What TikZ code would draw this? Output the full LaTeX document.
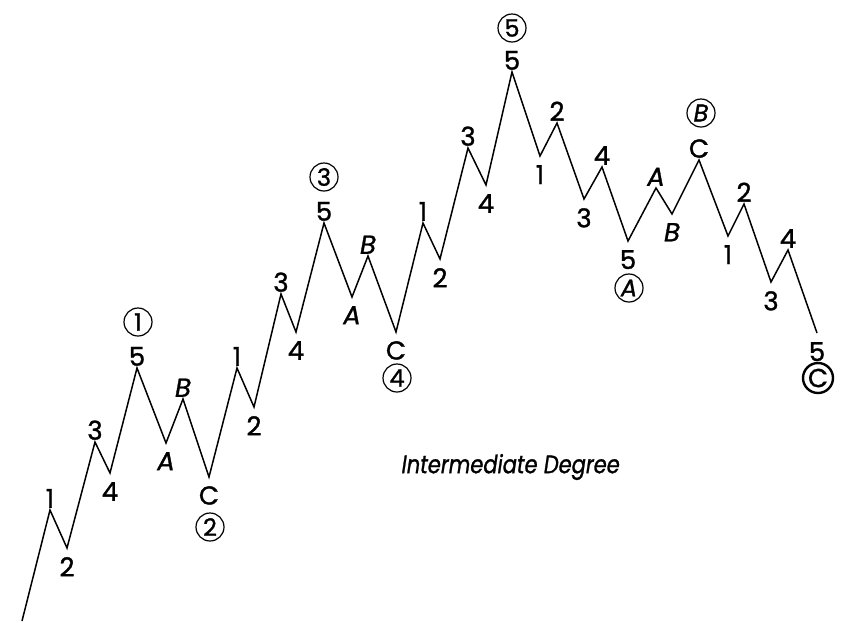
\documentclass[tikz,border=0pt]{standalone}
\usepackage{fontspec}
\setmainfont{Poppins}[FakeBold=1.2]
\begin{document}
\begin{tikzpicture}[x=1pt,y=-1pt,
  wave/.style={line width=1.5pt, line join=miter},
  lab/.style={font=\fontsize{26}{26}\selectfont, inner sep=1pt},
  up/.style={lab, anchor=south, yshift=1pt},
  dn/.style={lab, anchor=north, yshift=-8pt},
  circ/.style={draw, circle, line width=1.2pt, inner sep=0pt, minimum size=28pt, font=\fontsize{24}{24}\selectfont},
  capt/.style={font=\fontsize{21}{21}\selectfont\itshape, inner sep=0pt, anchor=east}
]
\useasboundingbox (0,0) rectangle (845,622);
% vertices
\coordinate (s) at (22,621);
\coordinate (p1) at (50,510);
\coordinate (p2) at (67,548);
\coordinate (p3) at (95,442);
\coordinate (p4) at (110,473);
\coordinate (p5) at (137,368);
\coordinate (pA) at (166,443);
\coordinate (pB) at (183,399);
\coordinate (pC) at (209,477);
\coordinate (q1) at (237,368);
\coordinate (q2) at (254,407);
\coordinate (q3) at (281,294);
\coordinate (q4) at (296,332);
\coordinate (q5) at (324,223);
\coordinate (qA) at (352,297);
\coordinate (qB) at (368,256);
\coordinate (qC) at (396,332);
\coordinate (r1) at (423,223);
\coordinate (r2) at (440,259);
\coordinate (r3) at (468,148);
\coordinate (r4) at (486,185);
\coordinate (r5) at (512,72);
\coordinate (t1) at (540,156);
\coordinate (t2) at (557,123);
\coordinate (t3) at (584,199);
\coordinate (t4) at (602,167);
\coordinate (t5) at (628,241);
\coordinate (tA) at (656,188);
\coordinate (tB) at (672,214);
\coordinate (tC) at (699,160);
\coordinate (u1) at (728,236);
\coordinate (u2) at (744,204);
\coordinate (u3) at (771,282);
\coordinate (u4) at (788,250);
\coordinate (e) at (817,333);

\draw[wave] (s) -- (p1) -- (p2) -- (p3) -- (p4) -- (p5) -- (pA) -- (pB) -- (pC)
  -- (q1) -- (q2) -- (q3) -- (q4) -- (q5) -- (qA) -- (qB) -- (qC)
  -- (r1) -- (r2) -- (r3) -- (r4) -- (r5) -- (t1) -- (t2) -- (t3) -- (t4) -- (t5)
  -- (tA) -- (tB) -- (tC) -- (u1) -- (u2) -- (u3) -- (u4) -- (e);

% labels
\node[up] (lp1) at (p1) {1};
\node[dn] (lp2) at (p2) {2};
\node[up] (lp3) at (p3) {3};
\node[dn] (lp4) at (p4) {4};
\node[up] (lp5) at (p5) {5};
\node[dn] (lpA) at (pA) {\itshape A};
\node[up] (lpB) at (pB) {\itshape B};
\node[dn] (lpC) at (pC) {C};
\node[up] (lq1) at (q1) {1};
\node[dn] (lq2) at (q2) {2};
\node[up] (lq3) at (q3) {3};
\node[dn] (lq4) at (q4) {4};
\node[up] (lq5) at (q5) {5};
\node[dn] (lqA) at (qA) {\itshape A};
\node[up] (lqB) at (qB) {\itshape B};
\node[dn] (lqC) at (qC) {C};
\node[up] (lr1) at (r1) {1};
\node[dn] (lr2) at (r2) {2};
\node[up] (lr3) at (r3) {3};
\node[dn] (lr4) at (r4) {4};
\node[up] (lr5) at (r5) {5};
\node[dn] (lt1) at (t1) {1};
\node[up] (lt2) at (t2) {2};
\node[dn] (lt3) at (t3) {3};
\node[up] (lt4) at (t4) {4};
\node[dn] (lt5) at (t5) {5};
\node[up] (ltA) at (tA) {\itshape A};
\node[dn] (ltB) at (tB) {\itshape B};
\node[up] (ltC) at (tC) {C};
\node[dn] (lu1) at (u1) {1};
\node[up] (lu2) at (u2) {2};
\node[dn] (lu3) at (u3) {3};
\node[up] (lu4) at (u4) {4};
\node[dn] (le) at (e) {5};

% circled degree marks
\node[circ] (c1) at (138,322) {1};
\node[circ] (c2) at (210,527) {2};
\node[circ] (c3) at (324,177) {3};
\node[circ] (c4) at (397,378) {4};
\node[circ] (c5) at (512,28) {5};
\node[circ] (cA) at (629,288) {\itshape A};
\node[circ] (cB) at (701,113) {\itshape B};
\node[circ, line width=2.4pt, minimum size=30pt, font=\fontsize{26}{26}\selectfont] (cC) at (818,378) {C};

\node[capt] (cap) at (620,467) {\scalebox{1}[1.2]{Intermediate Degree}};
\end{tikzpicture}
\end{document}
